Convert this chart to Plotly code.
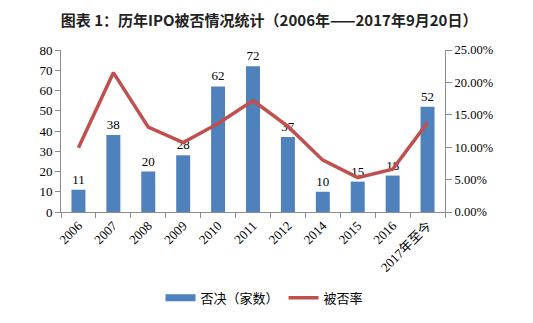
import plotly.graph_objects as go

categories = ["2006", "2007", "2008", "2009", "2010", "2011", "2012", "2014", "2015", "2016", "2017年至今"]
rejected = [11, 38, 20, 28, 62, 72, 37, 10, 15, 18, 52]
reject_rate = [0.099, 0.215, 0.131, 0.107, 0.1365, 0.172, 0.132, 0.080, 0.053, 0.066, 0.138]
left_ticks = [0, 10, 20, 30, 40, 50, 60, 70, 80]
right_ticks = [0, 0.05, 0.10, 0.15, 0.20, 0.25]

title_text = "图表 1：历年IPO被否情况统计（2006年——2017年9月20日）"
serif = "Liberation Serif, Times New Roman, serif"
cjk = "Noto Sans CJK SC, sans-serif"
bar_color = "#4F81BD"
line_color = "#C0504D"

fig = go.Figure()
fig.add_trace(go.Bar(
    x=categories, y=rejected, name="否决（家数）", showlegend=False,
    marker=dict(color=bar_color, line=dict(width=0)),
    text=[str(v) for v in rejected], textposition="outside",
    textfont=dict(family=serif, size=13, color="#000000"),
    cliponaxis=False,
))
# legend-only entry to mimic the wide rectangle swatch
fig.add_trace(go.Scatter(
    x=[None], y=[None], name="否决（家数）", mode="lines",
    line=dict(color=bar_color, width=7),
))
fig.add_trace(go.Scatter(
    x=categories, y=reject_rate, name="被否率", yaxis="y2",
    mode="lines", line=dict(color=line_color, width=3.5),
))

fig.update_layout(
    width=533, height=323,
    margin=dict(l=61, r=88, t=50, b=110),
    paper_bgcolor="white", plot_bgcolor="white",
    bargap=0.6,
    showlegend=True,
    title=dict(text="<b>" + title_text + "</b>", x=0.505, xanchor="center", y=0.935, yanchor="middle",
               font=dict(family=cjk, size=15, color="#222222")),
    xaxis=dict(
        type="category", tickangle=-45, showline=True, linecolor="#8c8c8c", linewidth=1,
        ticks="outside", tickson="boundaries", ticklen=5, tickcolor="#8c8c8c",
        tickfont=dict(family=serif + ", " + cjk, size=13, color="#000000"),
        showgrid=False,
    ),
    yaxis=dict(
        range=[0, 80], tickvals=left_ticks, showline=True, linecolor="#8c8c8c", linewidth=1,
        ticks="outside", ticklen=5, tickcolor="#8c8c8c", showgrid=False, zeroline=False,
        tickfont=dict(family=serif, size=13, color="#000000"),
    ),
    yaxis2=dict(
        range=[0, 0.25], tickvals=right_ticks, tickformat=".2%", overlaying="y", side="right",
        showline=True, linecolor="#8c8c8c", linewidth=1, ticks="outside", ticklen=6,
        tickcolor="#8c8c8c", showgrid=False, zeroline=False,
        tickfont=dict(family=serif, size=12.5, color="#000000"),
    ),
    legend=dict(
        orientation="h", x=0.53, xanchor="center", y=-0.52, yanchor="middle",
        font=dict(family=cjk, size=13, color="#000000"), itemwidth=30,
        traceorder="normal",
    ),
)

fig.write_html("out.html")
